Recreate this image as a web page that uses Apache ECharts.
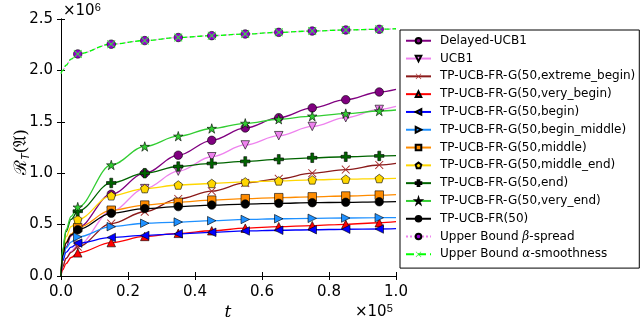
<!DOCTYPE html>
<html>
<head>
<meta charset="utf-8">
<script src="https://cdn.jsdelivr.net/npm/echarts@6/dist/echarts.min.js"></script>
<style>
  html, body { margin: 0; padding: 0; background: #fff; }
  #chart { width: 640px; height: 323px; }
</style>
</head>
<body>
<div id="chart"></div>
<script>
// t in units of 1e5, regret in units of 1e6
var tPoints = [0, 0.005, 0.015, 0.03, 0.05, 0.15, 0.25, 0.35, 0.45, 0.55, 0.65, 0.75, 0.85, 0.95, 1.0]
var markerT = [0.05, 0.15, 0.25, 0.35, 0.45, 0.55, 0.65, 0.75, 0.85, 0.95]

var delayedUcb1 = [0, 0.15, 0.28, 0.39, 0.47, 0.795, 1.0, 1.175, 1.32, 1.44, 1.54, 1.635, 1.715, 1.79, 1.815]
var ucb1 = [0, 0.09, 0.17, 0.24, 0.30, 0.63, 0.85, 1.02, 1.16, 1.275, 1.365, 1.455, 1.54, 1.62, 1.65]
var extremeBegin = [0, 0.09, 0.17, 0.23, 0.285, 0.51, 0.625, 0.75, 0.825, 0.905, 0.945, 1.0, 1.035, 1.08, 1.095]
var veryBegin = [0, 0.06, 0.12, 0.18, 0.225, 0.325, 0.385, 0.415, 0.44, 0.465, 0.48, 0.49, 0.503, 0.518, 0.528]
var begin = [0, 0.15, 0.23, 0.28, 0.32, 0.375, 0.395, 0.41, 0.425, 0.438, 0.445, 0.45, 0.455, 0.457, 0.46]
var beginMiddle = [0, 0.17, 0.27, 0.33, 0.38, 0.48, 0.513, 0.525, 0.538, 0.55, 0.557, 0.561, 0.564, 0.567, 0.568]
var middle = [0, 0.2, 0.33, 0.41, 0.47, 0.64, 0.69, 0.717, 0.738, 0.752, 0.762, 0.77, 0.778, 0.787, 0.792]
var middleEnd = [0, 0.22, 0.38, 0.48, 0.55, 0.78, 0.85, 0.885, 0.9, 0.915, 0.925, 0.935, 0.942, 0.948, 0.95]
var endG = [0, 0.25, 0.43, 0.55, 0.63, 0.905, 1.0, 1.065, 1.095, 1.115, 1.135, 1.15, 1.16, 1.168, 1.17]
var veryEnd = [0, 0.26, 0.45, 0.58, 0.67, 1.08, 1.26, 1.36, 1.435, 1.485, 1.525, 1.555, 1.58, 1.605, 1.615]
var tpUcbFr = [0, 0.2, 0.32, 0.40, 0.45, 0.61, 0.656, 0.675, 0.69, 0.70, 0.707, 0.713, 0.717, 0.722, 0.724]
var boundBeta = [1.97, 2.0, 2.05, 2.11, 2.16, 2.255, 2.29, 2.32, 2.338, 2.354, 2.37, 2.383, 2.393, 2.40, 2.405]
var boundAlpha = [1.97, 2.0, 2.05, 2.11, 2.16, 2.255, 2.29, 2.32, 2.338, 2.354, 2.37, 2.383, 2.393, 2.40, 2.405]

var xTicks = [0, 0.2, 0.4, 0.6, 0.8, 1.0]
var yTicks = [0, 0.5, 1.0, 1.5, 2.0, 2.5]

var SYM = {
  triDown: 'path://M-1,-1 L1,-1 L0,1 Z',
  triLeft: 'path://M1,-1 L1,1 L-1,0 Z',
  triRight: 'path://M-1,-1 L-1,1 L1,0 Z',
  pentagon: 'path://M0,-1 L0.951,-0.309 L0.588,0.809 L-0.588,0.809 L-0.951,-0.309 Z',
  star: 'path://M0,-1 L0.2245,-0.309 L0.951,-0.309 L0.363,0.118 L0.588,0.809 L0,0.382 L-0.588,0.809 L-0.363,0.118 L-0.951,-0.309 L-0.2245,-0.309 Z',
  plus: 'path://M-0.3,-1 L0.3,-1 L0.3,-0.3 L1,-0.3 L1,0.3 L0.3,0.3 L0.3,1 L-0.3,1 L-0.3,0.3 L-1,0.3 L-1,-0.3 L-0.3,-0.3 Z',
  cross: 'path://M-1,-0.85 L-0.85,-1 L0,-0.15 L0.85,-1 L1,-0.85 L0.15,0 L1,0.85 L0.85,1 L0,0.15 L-0.85,1 L-1,0.85 L-0.15,0 Z'
}

function buildData (values) {
  return tPoints.map(function (t, i) {
    var item = { value: [t, values[i]] }
    if (markerT.indexOf(t) < 0) item.symbol = 'none'
    return item
  })
}

function makeSeries (name, values, lineColor, fill, symbol, size, opts) {
  opts = opts || {}
  return {
    name: name,
    type: 'line',
    data: buildData(values),
    smooth: 0.35,
    smoothMonotone: 'x',
    showAllSymbol: true,
    symbol: symbol,
    symbolSize: size,
    lineStyle: { color: lineColor, width: 1.3, type: opts.lineType || 'solid' },
    itemStyle: {
      color: fill,
      borderColor: opts.noBorder ? fill : '#000',
      borderWidth: opts.noBorder ? 0 : 0.6
    },
    emphasis: { disabled: true }
  }
}

var series = [
  makeSeries('Delayed-UCB1', delayedUcb1, '#800080', '#800080', 'circle', 8.5),
  makeSeries('UCB1', ucb1, '#ee82ee', '#ee82ee', SYM.triDown, 8.5),
  makeSeries('TP-UCB-FR-G(50,extreme_begin)', extremeBegin, '#8b1a1a', '#a52a2a', SYM.cross, 8.5, { noBorder: true }),
  makeSeries('TP-UCB-FR-G(50,very_begin)', veryBegin, '#ff0000', '#ff0000', 'triangle', 8.5),
  makeSeries('TP-UCB-FR-G(50,begin)', begin, '#0000ff', '#0000ff', SYM.triLeft, 8.5),
  makeSeries('TP-UCB-FR-G(50,begin_middle)', beginMiddle, '#1e90ff', '#1e90ff', SYM.triRight, 8.5),
  makeSeries('TP-UCB-FR-G(50,middle)', middle, '#ff8c00', '#ff8c00', 'rect', 8.5),
  makeSeries('TP-UCB-FR-G(50,middle_end)', middleEnd, '#ffd700', '#ffd700', SYM.pentagon, 8.5),
  makeSeries('TP-UCB-FR-G(50,end)', endG, '#006400', '#006400', SYM.plus, 9.5),
  makeSeries('TP-UCB-FR-G(50,very_end)', veryEnd, '#32cd32', '#32cd32', SYM.star, 9.5),
  makeSeries('TP-UCB-FR(50)', tpUcbFr, '#000000', '#000000', 'circle', 8.5),
  makeSeries('Upper Bound β-spread', boundBeta, '#ee82ee', '#9400d3', 'circle', 8.5, { lineType: 'dotted' }),
  makeSeries('Upper Bound α-smoothness', boundAlpha, '#00ff00', '#33ee33', SYM.cross, 8.5, { lineType: 'dashed', noBorder: true })
]

var chart = echarts.init(document.getElementById('chart'))
var option = {
  animation: false,
  backgroundColor: '#fff',
  textStyle: { fontFamily: 'DejaVu Sans' },
  grid: { left: 61, right: 244, top: 19, bottom: 47 },
  xAxis: [{
    type: 'value',
    min: 0,
    max: 1,
    interval: 0.2,
    axisLine: { lineStyle: { color: '#000', width: 1 } },
    axisTick: { inside: true, length: 4, lineStyle: { color: '#000' } },
    axisLabel: {
      color: '#000',
      fontSize: 15,
      margin: 9,
      formatter: function (v) { return xTicks.indexOf(v) >= 0 ? v.toFixed(1) : '' }
    },
    splitLine: { show: false }
  }, {
    type: 'value',
    position: 'top',
    min: 0,
    max: 1,
    interval: 0.2,
    axisLine: { lineStyle: { color: '#000', width: 1 } },
    axisTick: { inside: true, length: 4, lineStyle: { color: '#000' } },
    axisLabel: { show: false },
    splitLine: { show: false }
  }],
  yAxis: [{
    type: 'value',
    min: 0,
    max: 2.5,
    interval: 0.5,
    axisLine: { show: true, lineStyle: { color: '#000', width: 1 } },
    axisTick: { show: true, inside: true, length: 4, lineStyle: { color: '#000' } },
    axisLabel: {
      color: '#000',
      fontSize: 15,
      margin: 8,
      formatter: function (v) { return yTicks.indexOf(v) >= 0 ? v.toFixed(1) : '' }
    },
    splitLine: { show: false }
  }, {
    type: 'value',
    position: 'right',
    min: 0,
    max: 2.5,
    interval: 0.5,
    axisLine: { show: true, lineStyle: { color: '#000', width: 1 } },
    axisTick: { show: true, inside: true, length: 4, lineStyle: { color: '#000' } },
    axisLabel: { show: false },
    splitLine: { show: false }
  }],
  legend: {
    orient: 'vertical',
    left: 400,
    top: 30,
    padding: [4, 4, 7, 5],
    borderColor: '#000',
    borderWidth: 1,
    itemWidth: 25,
    itemHeight: 7,
    itemGap: 4.3,
    selectedMode: false,
    textStyle: {
      fontFamily: 'DejaVu Sans',
      fontSize: 12,
      lineHeight: 13.5,
      color: '#000',
      padding: [0, 0, 0, 4],
      rich: {
        n: { fontFamily: 'DejaVu Sans', fontSize: 12, color: '#000' },
        i: { fontFamily: 'DejaVu Serif', fontStyle: 'italic', fontSize: 12, color: '#000' }
      }
    },
    formatter: function (name) {
      if (name.indexOf('β') >= 0) return '{n|Upper Bound }{i|β}{n|-spread}'
      if (name.indexOf('α') >= 0) return '{n|Upper Bound }{i|α}{n|-smoothness}'
      return name
    },
    data: series.map(function (s) { return s.name })
  },
  graphic: [{
    type: 'text',
    left: 63,
    top: 2,
    style: {
      text: '×10{s|6}',
      font: '15px DejaVu Sans',
      fill: '#000',
      rich: { s: { fontSize: 11, verticalAlign: 'top', padding: [0, 0, 8, 0] } }
    }
  }, {
    type: 'text',
    left: 355,
    top: 303,
    style: {
      text: '×10{s|5}',
      font: '15px DejaVu Sans',
      fill: '#000',
      rich: { s: { fontSize: 11, verticalAlign: 'top', padding: [0, 0, 8, 0] } }
    }
  }, {
    type: 'text',
    x: 228,
    y: 313,
    style: {
      text: 't',
      font: 'italic 17px DejaVu Serif',
      fill: '#000',
      align: 'center',
      verticalAlign: 'middle'
    }
  }, {
    type: 'text',
    x: 22,
    y: 152,
    rotation: Math.PI / 2,
    style: {
      text: 'ℛ{s|T}(𝔄)',
      font: '17px DejaVu Serif',
      fill: '#000',
      align: 'center',
      verticalAlign: 'middle',
      rich: { s: { fontSize: 11, fontStyle: 'italic', padding: [8, 0, 0, 0] } }
    }
  }],
  series: series
}
chart.setOption(option)
</script>
</body>
</html>
